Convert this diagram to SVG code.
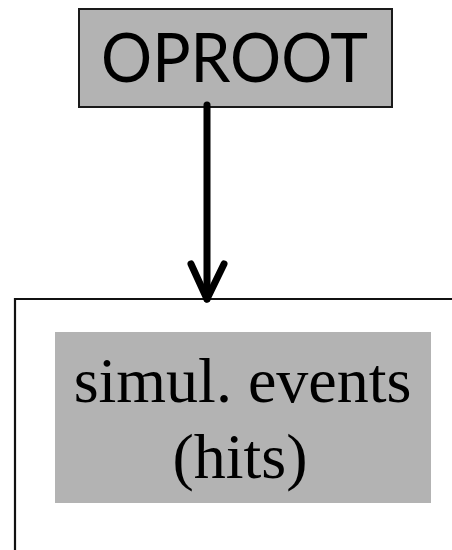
<svg xmlns="http://www.w3.org/2000/svg" width="452" height="550" viewBox="0 0 452 550">
  <style>
    .box { fill: #b3b3b3; }
    .boxed { stroke: #1a1a1a; stroke-width: 2; }
    .frame { fill: none; stroke: #111; stroke-width: 2.2; }
    .sans { font-family: Lato, "Liberation Sans", sans-serif; fill: #000; }
    .serif { font-family: "Liberation Serif", "Times New Roman", serif; fill: #000; }
    .conn { fill: none; stroke: #000; stroke-width: 7; stroke-linecap: round; stroke-linejoin: round; }
  </style>
  <rect width="452" height="550" fill="#fff"/>

  <!-- container frame (open to the right and bottom) -->
  <g id="container">
    <path class="frame" d="M452,299 H15 V550"/>
  </g>

  <g id="oproot">
    <rect class="box boxed" x="79" y="9" width="313" height="98"/>
    <text class="sans" x="101" y="82" font-size="68" textLength="267" lengthAdjust="spacingAndGlyphs">OPROOT</text>
  </g>

  <g id="events">
    <rect class="box" x="55" y="332" width="376" height="171"/>
    <text class="serif" x="242.5" y="402" font-size="64" text-anchor="middle">simul. events</text>
    <text class="serif" x="240" y="478" font-size="64" text-anchor="middle">(hits)</text>
  </g>

  <g id="connectors">
    <path class="conn" d="M207,105 V299"/>
    <path class="conn" d="M191,264 L207,299 L224,264"/>
  </g>
</svg>
